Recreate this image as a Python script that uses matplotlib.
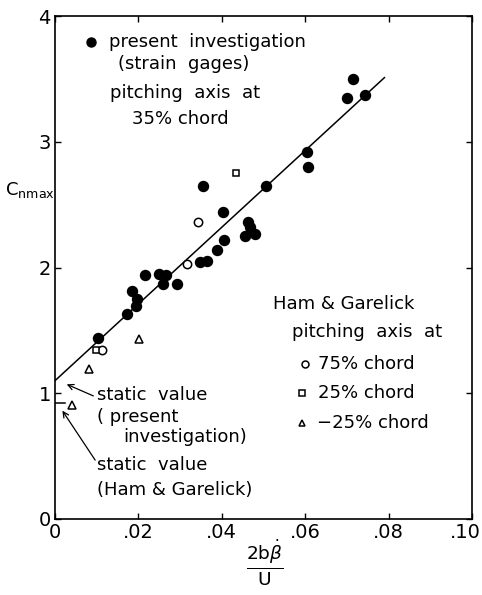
import matplotlib
matplotlib.use("Agg")
import matplotlib.pyplot as plt
from matplotlib.transforms import ScaledTranslation

plt.rcParams['font.family'] = ['DejaVu Sans']
plt.rcParams['mathtext.fontset'] = 'dejavusans'

# present investigation (strain gages), pitching axis at 35% chord
present_x = [0.0103, 0.0173, 0.0194, 0.0197, 0.0185, 0.0216, 0.0249, 0.0266, 0.0260,
             0.0293, 0.0348, 0.0364, 0.0388, 0.0405, 0.0403, 0.0356, 0.0505,
             0.0463, 0.0468, 0.0456, 0.0480, 0.0604, 0.0607, 0.0700, 0.0715, 0.0743]
present_y = [1.44, 1.63, 1.69, 1.75, 1.81, 1.94, 1.95, 1.94, 1.87,
             1.87, 2.04, 2.05, 2.14, 2.22, 2.44, 2.65, 2.65,
             2.36, 2.32, 2.25, 2.27, 2.92, 2.80, 3.35, 3.50, 3.37]

# Ham & Garelick
ham75_x = [0.0113, 0.0316, 0.0342]
ham75_y = [1.34, 2.03, 2.36]
ham25_x = [0.0098, 0.0434]
ham25_y = [1.34, 2.75]
hamm25_x = [0.0041, 0.0082, 0.0201]
hamm25_y = [0.91, 1.19, 1.43]

# faired line and static values
line_x = [0.0, 0.079]
line_y = [1.10, 3.51]
static_present = 1.10
static_ham = 0.92

xticks = [0, 0.02, 0.04, 0.06, 0.08, 0.10]
xticklabels = ['0', '.02', '.04', '.06', '.08', '.10']
yticks = [0, 1, 2, 3, 4]

W, H = 482, 595
fig = plt.figure(figsize=(W / 100, H / 100), dpi=100)
ax = fig.add_axes([55 / W, (H - 519) / H, (472 - 55) / W, (519 - 16) / H])

ax.plot(line_x, line_y, color='black', lw=1.1)
ax.plot([0, 0.0024], [static_ham, static_ham], color='black', lw=1.1)

ax.plot(present_x, present_y, 'o', color='black', ms=7.2, ls='none')
ax.plot(ham75_x, ham75_y, 'o', mfc='white', mec='black', mew=1.1, ms=6, ls='none')
ax.plot(ham25_x, ham25_y, 's', mfc='white', mec='black', mew=1.1, ms=4.5, ls='none')
ax.plot(hamm25_x, hamm25_y, '^', mfc='white', mec='black', mew=1.1, ms=5.5, ls='none')

ax.set_xlim(0, 0.10)
ax.set_ylim(0, 4)
ax.set_xticks(xticks)
ax.set_xticklabels(xticklabels)
ax.set_yticks(yticks)
ax.tick_params(direction='in', length=4, width=1, top=True, right=True,
               labelsize=14, pad=3)
for s in ax.spines.values():
    s.set_linewidth(1.2)
# keep the last x tick label inside the figure
last = ax.get_xticklabels()[-1]
last.set_transform(last.get_transform() + ScaledTranslation(-7 / 100, 0, fig.dpi_scale_trans))

fs = 13
# legend for present investigation
ax.plot([0.0086], [3.79], 'o', color='black', ms=6.5)
ax.text(0.0130, 3.79, 'present  investigation', fontsize=fs, va='center')
ax.text(0.0150, 3.62, '(strain  gages)', fontsize=fs, va='center')
ax.text(0.0132, 3.39, 'pitching  axis  at', fontsize=fs, va='center')
ax.text(0.0185, 3.18, '35% chord', fontsize=fs, va='center')

# Ham & Garelick legend
ax.text(0.0523, 1.71, 'Ham & Garelick', fontsize=fs, va='center')
ax.text(0.0568, 1.49, 'pitching  axis  at', fontsize=fs, va='center')
ax.plot([0.0600], [1.23], 'o', mfc='white', mec='black', mew=1.1, ms=5)
ax.text(0.0631, 1.23, '75% chord', fontsize=fs, va='center')
ax.plot([0.0592], [1.00], 's', mfc='white', mec='black', mew=1.1, ms=4.5)
ax.text(0.0631, 1.00, '25% chord', fontsize=fs, va='center')
ax.plot([0.0592], [0.76], '^', mfc='white', mec='black', mew=1.1, ms=5)
ax.text(0.0628, 0.76, '\u221225% chord', fontsize=fs, va='center')

# static value annotations
ax.text(0.0101, 0.99, 'static  value', fontsize=fs, va='center')
ax.text(0.0101, 0.81, '( present', fontsize=fs, va='center')
ax.text(0.0163, 0.65, 'investigation)', fontsize=fs, va='center')
ax.text(0.0101, 0.43, 'static  value', fontsize=fs, va='center')
ax.text(0.0101, 0.23, '(Ham & Garelick)', fontsize=fs, va='center')
arrow = dict(arrowstyle='->', color='black', lw=0.9)
ax.annotate('', xy=(0.0022, 1.08), xytext=(0.0098, 0.97), arrowprops=arrow)
ax.annotate('', xy=(0.0014, 0.88), xytext=(0.0100, 0.45), arrowprops=arrow)

# axis labels
fig.text(30 / W, 1 - 190 / H, r'$\mathrm{C}_{\mathrm{nmax}}$', fontsize=13,
         ha='center', va='center')
fig.text(265 / W, 1 - 563 / H, r'$\frac{\mathrm{2b}\dot{\beta}}{\mathrm{U}}$',
         fontsize=19, ha='center', va='center')

fig.savefig('out.png', dpi=100)
